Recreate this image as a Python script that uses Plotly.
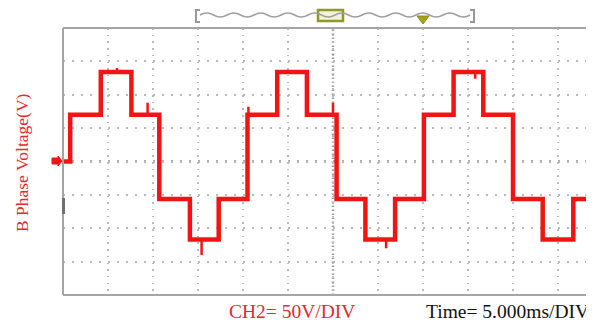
import plotly.graph_objects as go

# ---- data ----
# step edges (ms) and the level held after each edge (V)
edge_time_ms = [0, 0.8, 4.2, 7.6, 10.7, 14.1, 17.3, 20.5, 23.8, 27.1, 30.4,
                33.6, 36.9, 40.1, 43.4, 46.7, 50.0, 53.3, 56.7, 59.0]
level_volts = [0, 70, 134, 70, -56, -117, -56, 70, 134, 70, -56,
               -117, -56, 70, 134, 70, -56, -117, -56, -56]

# short glitches / spikes on the trace: time, start level, spike tip
glitch_time_ms = [9.4, 15.4, 20.6, 30.0, 35.9, 6.0, 45.8]
glitch_base_v = [70, -117, 70, 70, -117, 134, 134]
glitch_tip_v = [88, -140, 82, 88, -130, 140, 124]

y_label = "B Phase Voltage(V)"
ch_text = "CH2= 50V/DIV"
time_text = "Time= 5.000ms/DIV"

OFF = 8  # page body margin offset
W, H = 594 - OFF, 322 - OFF
L, R, T, B = 63, 594, 28, 295   # plot area in page pixels


def px(x):
    return (x - L) / (R - L)


def py(y):
    return (B - y) / (B - T)


RED = "#f21414"
fig = go.Figure()

fig.add_trace(go.Scatter(
    x=edge_time_ms, y=level_volts, mode="lines",
    line=dict(shape="hv", color=RED, width=4.5),
    hoverinfo="skip", showlegend=False))

gx, gy = [], []
for t, b0, tip in zip(glitch_time_ms, glitch_base_v, glitch_tip_v):
    gx += [t, t, None]
    gy += [b0, tip, None]
fig.add_trace(go.Scatter(x=gx, y=gy, mode="lines",
                         line=dict(color=RED, width=2.5),
                         hoverinfo="skip", showlegend=False))

shapes = []
# centre graticule lines (denser dots)
shapes.append(dict(type="line", xref="paper", yref="y", x0=0, x1=1, y0=0, y1=0,
                   line=dict(color="#8e8e8e", width=2.5, dash="2px,7px"), layer="below"))
shapes.append(dict(type="line", xref="x", yref="paper", x0=30, x1=30, y0=0, y1=1,
                   line=dict(color="#a0a0a0", width=2.5, dash="1.5px,2.5px"), layer="below"))
# frame (left, top, bottom)
for x0, y0, x1, y1 in [(L, T, L, B), (L, T, R, T), (L, B, R, B)]:
    shapes.append(dict(type="line", xref="paper", yref="paper",
                       x0=px(x0), y0=py(y0), x1=px(x1), y1=py(y1),
                       line=dict(color="#a5a5a5", width=2)))
# channel marker bar on left border
shapes.append(dict(type="line", xref="paper", yref="paper",
                   x0=px(63.5), x1=px(63.5), y0=py(198), y1=py(214),
                   line=dict(color="#707070", width=3)))
# ground arrow marker
shapes.append(dict(type="path", xref="paper", yref="paper",
                   path=f"M {px(52)},{py(158)} L {px(58)},{py(158)} L {px(58)},{py(156)} "
                        f"L {px(62)},{py(161)} L {px(58)},{py(166)} L {px(58)},{py(164)} "
                        f"L {px(52)},{py(164)} Z",
                   fillcolor=RED, line=dict(color=RED, width=1)))

# top timeline indicator
wave_y = 15
path = f"M {px(200)},{py(wave_y)}"
x = 200.0
k = 0
while x < 468:
    cx = x + 6.75
    cy = wave_y + (-4 if k % 2 == 0 else 4)
    path += f" Q {px(cx)},{py(cy)} {px(x + 13.5)},{py(wave_y)}"
    x += 13.5
    k += 1
shapes.append(dict(type="rect", xref="paper", yref="paper",
                   x0=px(318), x1=px(343), y0=py(10), y1=py(21),
                   fillcolor="#f2f2dc", line=dict(color="#8c9a26", width=2.5)))
shapes.append(dict(type="path", xref="paper", yref="paper", path=path,
                   line=dict(color="#a0a0a0", width=1.5)))
shapes.append(dict(type="path", xref="paper", yref="paper",
                   path=f"M {px(200)},{py(10)} L {px(196)},{py(10)} L {px(196)},{py(22)} L {px(200)},{py(22)}",
                   line=dict(color="#999999", width=2)))
shapes.append(dict(type="path", xref="paper", yref="paper",
                   path=f"M {px(470)},{py(10)} L {px(474)},{py(10)} L {px(474)},{py(22)} L {px(470)},{py(22)}",
                   line=dict(color="#999999", width=2)))
shapes.append(dict(type="path", xref="paper", yref="paper",
                   path=f"M {px(417)},{py(16)} L {px(429)},{py(16)} L {px(423)},{py(24)} Z",
                   fillcolor="#a3a31e", line=dict(color="#8c8c1a", width=1)))

annotations = [
    dict(text=y_label, xref="paper", yref="paper", x=px(22), y=py(163),
         textangle=-90, showarrow=False, xanchor="center", yanchor="middle",
         font=dict(family="Liberation Serif", size=17.5, color="#e8282c")),
    dict(text=ch_text, xref="paper", yref="paper", x=px(227), y=py(311),
         showarrow=False, xanchor="left", yanchor="middle",
         font=dict(family="Liberation Serif", size=19.5, color="#e8282c")),
    dict(text=time_text, xref="paper", yref="paper", x=px(424), y=py(311),
         showarrow=False, xanchor="left", yanchor="middle",
         font=dict(family="Liberation Serif", size=19.5, color="#111111")),
]

fig.update_layout(
    width=W, height=H,
    margin=dict(l=L - OFF, r=594 - R, t=T - OFF, b=322 - B, pad=0),
    paper_bgcolor="white", plot_bgcolor="white",
    shapes=shapes, annotations=annotations,
    xaxis=dict(range=[0, 59], dtick=5, tick0=0, showgrid=True,
               gridcolor="#bababa", gridwidth=1.5, griddash="1.5px,5.2px",
               showticklabels=False, ticks="", zeroline=False, showline=False,
               fixedrange=True),
    yaxis=dict(range=[-200, 200], dtick=50, tick0=0, showgrid=True,
               gridcolor="#bababa", gridwidth=1.5, griddash="2px,7px",
               showticklabels=False, ticks="", zeroline=False, showline=False,
               fixedrange=True),
)

fig.write_html("out.html")
